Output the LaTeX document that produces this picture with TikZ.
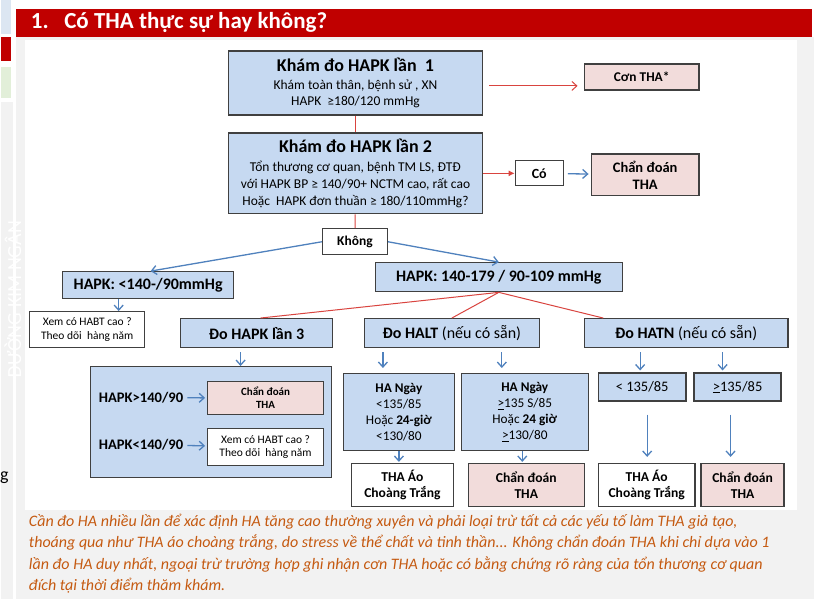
\documentclass[tikz,border=0pt]{standalone}
\usepackage{fontspec}
\setmainfont{Carlito}
\usetikzlibrary{arrows.meta}
\definecolor{BoxBlue}{HTML}{C6D9F1}
\definecolor{BoxPink}{HTML}{F2DCDB}
\definecolor{EdgeGray}{HTML}{404040}
\definecolor{LineRed}{HTML}{D9443F}
\definecolor{LineBlue}{HTML}{4F81BD}
\definecolor{BandRed}{HTML}{C00000}
\definecolor{NoteBrown}{HTML}{C55A11}
\definecolor{PageGray}{HTML}{F2F2F2}
\definecolor{StripBlue}{HTML}{DCE6F2}
\definecolor{StripGreen}{HTML}{E2EFD9}
\newcommand{\headtxt}[1]{{\fontsize{18}{21}\selectfont\bfseries #1}}
\newcommand{\ulgt}{\underline{>}}

\begin{document}
\begin{tikzpicture}[x=1pt,y=-1pt,
    every node/.style={font=\fontsize{11}{15}\selectfont},
    box/.style={draw=EdgeGray,line width=1.3pt,align=center,inner sep=0pt},
    bluebox/.style={box,fill=BoxBlue},
    pinkbox/.style={box,fill=BoxPink},
    whitebox/.style={box,fill=white},
    redlink/.style={LineRed,line width=1pt},
    redarr/.style={redlink,-{Straight Barb[length=5pt,width=9pt]}},
    bluearr/.style={LineBlue,line width=1.3pt,-{Straight Barb[length=5pt,width=9pt]}}
  ]
    % page background
    \fill[white] (0,0) rectangle (814,600);
    \fill[PageGray] (15,37) rectangle (814,600);
    \fill[white] (24,40) rectangle (797,510);
    \fill[StripBlue] (0,0) rectangle (10,34);
    \fill[BandRed] (0,37) rectangle (10,61);
    \fill[StripGreen] (0,67) rectangle (10,98);
    \fill[PageGray] (0,102) rectangle (12,600);
    \node[rotate=90,text=white,font=\fontsize{20}{24}\selectfont] (mark) at (12,300) {ĐƯỜNG KIM NGÂN};
    \node[anchor=west,font=\fontsize{18}{20}\selectfont,inner sep=0pt] (gtail) at (-1,478) {g};
    % title band
    \fill[BandRed] (15,9) rectangle (812,37);
    \node[anchor=west,inner sep=0pt,text=white,font=\fontsize{23}{26}\selectfont\bfseries] (title) at (30,23) {1.\ \ \ Có THA thực sự hay không?};

    \node[bluebox,minimum width=254,minimum height=64,font=\fontsize{13.5}{16}\selectfont] (kham1) at (355,83)
      {\headtxt{Khám đo HAPK lần\ \ 1}\\[2pt] Khám toàn thân, bệnh sử , XN\\ HAPK\ \ ≥180/120 mmHg};
    \node[pinkbox,minimum width=115,minimum height=26,font=\fontsize{13.4}{15}\selectfont\bfseries] (con) at (641.5,77) {Cơn THA*};
    \node[bluebox,minimum width=254,minimum height=81,font=\fontsize{13.5}{17}\selectfont] (kham2) at (355,173.5)
      {\headtxt{Khám đo HAPK lần 2}\\[2pt] Tổn thương cơ quan, bệnh TM LS, ĐTĐ\\ với HAPK BP ≥ 140/90+ NCTM cao, rất cao\\ Hoặc\ \ HAPK đơn thuần ≥ 180/110mmHg?};
    \node[whitebox,minimum width=48,minimum height=25,font=\fontsize{14}{16}\selectfont\bfseries] (co) at (539,173.5) {Có};
    \node[pinkbox,minimum width=108,minimum height=42,font=\fontsize{14.5}{17}\selectfont\bfseries] (chan1) at (645,175) {Chẩn đoán\\THA};
    \node[whitebox,minimum width=65,minimum height=26,font=\fontsize{13.5}{16}\selectfont\bfseries] (khong) at (354.5,242) {Không};
    \node[bluebox,minimum width=171,minimum height=27,font=\fontsize{16}{18}\selectfont\bfseries] (hapk1) at (147.5,285.5) {HAPK: <140-/90mmHg};
    \node[bluebox,minimum width=247,minimum height=29,font=\fontsize{16}{18}\selectfont\bfseries] (hapk2) at (498.5,277.5) {HAPK: 140-179 / 90-109 mmHg};
    \node[whitebox,minimum width=115,minimum height=36,font=\fontsize{11.5}{14}\selectfont] (xem1) at (86.5,330) {Xem có HABT cao ?\\Theo dõi\ \ hàng năm};
    \node[bluebox,minimum width=152,minimum height=29,font=\fontsize{16}{18}\selectfont\bfseries] (do3) at (256,333.5) {Đo HAPK lần 3};
    \node[bluebox,minimum width=175,minimum height=29,font=\fontsize{16}{18}\selectfont] (halt) at (451.5,333.5) {\textbf{Đo HALT} (nếu có sẵn)};
    \node[bluebox,minimum width=204,minimum height=29,font=\fontsize{16}{18}\selectfont] (hatn) at (686,333.5) {\textbf{Đo HATN} (nếu có sẵn)};

    % HAPK lan 3 panel
    \node[bluebox,minimum width=241,minimum height=111] (panel) at (210.5,422.5) {};
    \node[anchor=west,inner sep=0pt,font=\fontsize{14.6}{16}\selectfont\bfseries] (hi) at (98,398) {HAPK>140/90};
    \node[anchor=west,inner sep=0pt,font=\fontsize{14.6}{16}\selectfont\bfseries] (lo) at (98,445) {HAPK<140/90};
    \node[pinkbox,minimum width=116,minimum height=33,line width=1pt,font=\fontsize{11}{13}\selectfont\bfseries] (chan2) at (265,398.5) {Chẩn đoán\\THA};
    \node[whitebox,minimum width=116,minimum height=37,line width=1pt,font=\fontsize{11.5}{14}\selectfont] (xem2) at (265,447.5) {Xem có HABT cao ?\\Theo dõi\ \ hàng năm};

    % HALT and HATN branches
    \node[bluebox,minimum width=111,minimum height=77,font=\fontsize{13.3}{16}\selectfont] (day1) at (398.5,412.5) {\textbf{HA Ngày}\\<135/85\\Hoặc \textbf{24-giờ}\\<130/80};
    \node[bluebox,minimum width=127,minimum height=77,font=\fontsize{13.3}{16}\selectfont] (day2) at (524.5,412.5) {\textbf{HA Ngày}\\\ulgt135 S/85\\Hoặc \textbf{24 giờ}\\\ulgt130/80};
    \node[bluebox,minimum width=88,minimum height=28,font=\fontsize{14.5}{16}\selectfont] (lt135) at (642,387.5) {< 135/85};
    \node[bluebox,minimum width=87,minimum height=28,font=\fontsize{14.5}{16}\selectfont] (ge135) at (737.5,387.5) {\ulgt135/85};
    \node[whitebox,minimum width=102,minimum height=43,font=\fontsize{13.6}{16}\selectfont\bfseries] (aoc1) at (402,485.5) {THA Áo\\Choàng Trắng};
    \node[pinkbox,minimum width=116,minimum height=43,font=\fontsize{13.6}{16}\selectfont\bfseries] (chan3) at (526,485.5) {Chẩn đoán\\THA};
    \node[whitebox,minimum width=97,minimum height=43,font=\fontsize{13.6}{16}\selectfont\bfseries] (aoc2) at (646.5,485.5) {THA Áo\\Choàng Trắng};
    \node[pinkbox,minimum width=83,minimum height=43,font=\fontsize{13.6}{16}\selectfont\bfseries] (chan4) at (742.5,485.5) {Chẩn đoán\\THA};

    % note
    \node[anchor=north west,align=left,inner sep=0pt,text=NoteBrown,font=\fontsize{16}{21.5}\selectfont\itshape] (note) at (28,514)
      {Cần đo HA nhiều lần để xác định HA tăng cao thường xuyên và phải loại trừ tất cả các yếu tố làm THA giả tạo,\\
       thoáng qua như THA áo choàng trắng, do stress về thể chất và tinh thần... Không chẩn đoán THA khi chỉ dựa vào 1\\
       lần đo HA duy nhất, ngoại trừ trường hợp ghi nhận cơn THA hoặc có bằng chứng rõ ràng của tổn thương cơ quan\\
       đích tại thời điểm thăm khám.};

    % connectors
    \coordinate (crisis) at (489,86);
    \draw[redarr] (crisis) -- (con.west |- crisis) [shorten >=6pt];
    \draw[redlink] (kham1) -- (kham2);
    \draw[redlink,-{Latex[length=6pt,width=6pt]}] (kham2.east |- co.west) -- (co.west);
    \draw[bluearr,shorten <=4pt,shorten >=2pt] (co) -- (chan1);
    \draw[redlink] (kham2) -- (khong);
    \draw[bluearr] (khong.west) -- ([xshift=2.5]hapk1.north);
    \draw[bluearr] (khong.east) -- (hapk2.north);
    \draw[bluearr] ([xshift=-29.5]hapk1.south) -- ([xshift=-29.5]hapk1.south |- xem1.north);
    \draw[redlink] (hapk2.south) -- ([xshift=4]do3.north);
    \draw[redlink] (hapk2.south) -- (halt.north);
    \draw[redlink] (hapk2.south) -- ([xshift=-83]hatn.north);
    \draw[bluearr,shorten <=4pt] ([xshift=-16]do3.south) -- ([xshift=-16]do3.south |- panel.north);
    \draw[bluearr,shorten <=4pt,shorten >=2pt] (hi) -- (chan2);
    \draw[bluearr,shorten <=4pt,shorten >=2pt] (lo) -- (xem2);
    \draw[bluearr,shorten <=4pt,shorten >=5pt] ([xshift=-16]day1.north |- halt.south) -- ([xshift=-16]day1.north);
    \draw[bluearr,shorten <=4pt,shorten >=5pt] ([xshift=-23]day2.north |- halt.south) -- ([xshift=-23]day2.north);
    \draw[bluearr,shorten >=1pt] (day1.south) -- (day1.south |- aoc1.north);
    \draw[bluearr,shorten >=1pt] ([xshift=-2.5]day2.south) -- ([xshift=-2.5]day2.south |- chan3.north);
    \draw[bluearr,shorten <=4pt,shorten >=2pt] ([xshift=-2]lt135.north |- hatn.south) -- ([xshift=-2]lt135.north);
    \draw[bluearr,shorten <=4pt,shorten >=2pt] ([xshift=-15]ge135.north |- hatn.south) -- ([xshift=-15]ge135.north);
    \draw[bluearr,shorten <=13pt,shorten >=6pt] ([xshift=5]lt135.south) -- ([xshift=5]lt135.south |- aoc2.north);
    \draw[bluearr,shorten <=13pt,shorten >=6pt] ([xshift=-7]ge135.south) -- ([xshift=-7]ge135.south |- chan4.north);
  \end{tikzpicture}
\end{document}
